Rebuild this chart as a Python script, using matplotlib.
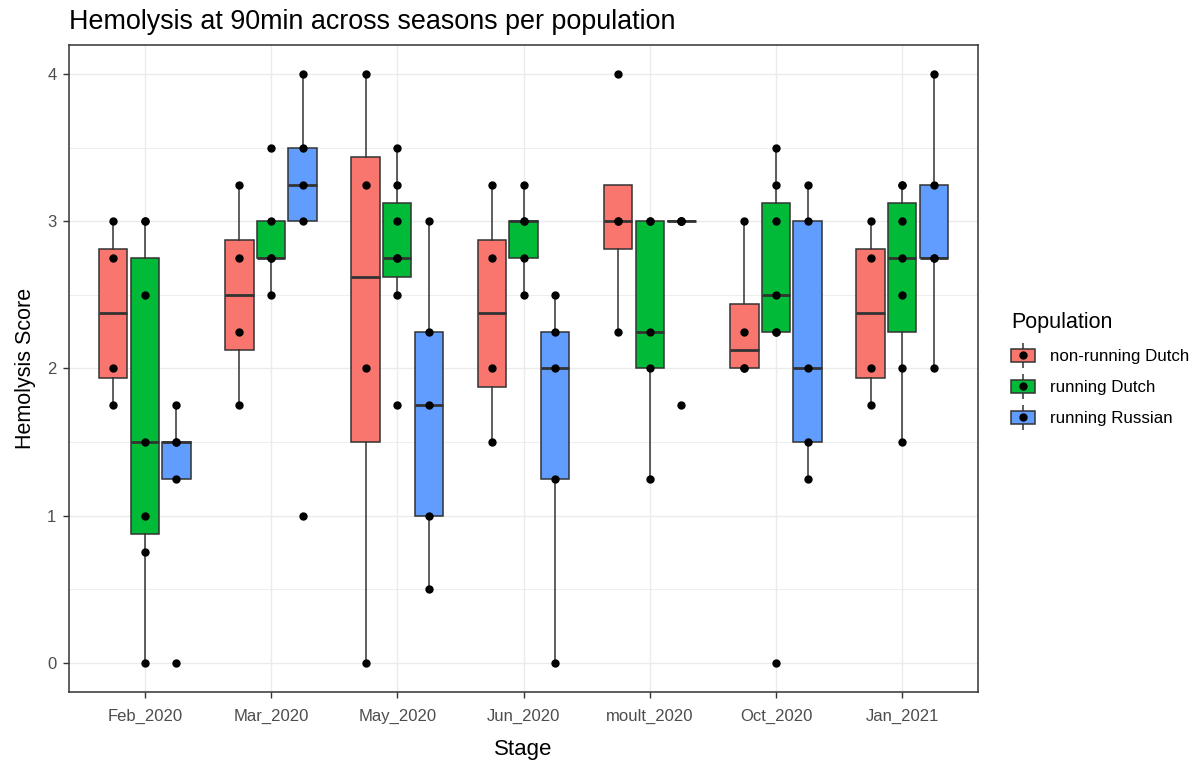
import numpy as np
import matplotlib
matplotlib.use("Agg")
import matplotlib.pyplot as plt
from matplotlib.patches import Patch
from matplotlib.lines import Line2D

plt.rcParams['font.family'] = ['Liberation Sans', 'DejaVu Sans']

# hemolysis scores per stage, one list per population
stages = ["Feb_2020", "Mar_2020", "May_2020", "Jun_2020", "moult_2020", "Oct_2020", "Jan_2021"]
populations = ["non-running Dutch", "running Dutch", "running Russian"]

nonrunning_dutch = [
    [1.75, 2, 2.75, 3],
    [1.75, 2.25, 2.75, 3.25],
    [0, 2, 3.25, 4],
    [1.5, 2, 2.75, 3.25],
    [2.25, 3, 3, 4],
    [2, 2, 2.25, 3],
    [1.75, 2, 2.75, 3],
]
running_dutch = [
    [0, 0.75, 1, 1.5, 2.5, 3, 3],
    [2.5, 2.75, 2.75, 3, 3.5],
    [1.75, 2.5, 2.75, 2.75, 3, 3.25, 3.5],
    [2.5, 2.75, 3, 3, 3.25],
    [1.25, 2, 2.25, 3, 3],
    [0, 2.25, 2.25, 2.5, 3, 3.25, 3.5],
    [1.5, 2, 2.5, 2.75, 3, 3.25, 3.25],
]
running_russian = [
    [0, 1.25, 1.5, 1.5, 1.75],
    [1, 3, 3.25, 3.5, 4],
    [0.5, 1, 1.75, 2.25, 3],
    [0, 1.25, 2, 2.25, 2.5],
    [1.75, 3, 3, 3, 3],
    [1.25, 1.5, 2, 3, 3.25],
    [2, 2.75, 2.75, 3.25, 4],
]

series = [nonrunning_dutch, running_dutch, running_russian]
colors = ["#F8766D", "#00BA38", "#619CFF"]
edge = "#333333"

fig = plt.figure(figsize=(11.99, 7.63), dpi=100)
ax = fig.add_axes([69 / 1199, 1 - 692 / 763, (978 - 69) / 1199, (692 - 45) / 763])

x = np.arange(1, len(stages) + 1)
offsets = [-0.25, 0, 0.25]

for data, col, off in zip(series, colors, offsets):
    ax.boxplot(data, positions=x + off, widths=0.225, whis=1.5, showfliers=False,
               patch_artist=True, manage_ticks=False, zorder=3,
               boxprops=dict(facecolor=col, edgecolor=edge, linewidth=1.1),
               medianprops=dict(color=edge, linewidth=2.0),
               whiskerprops=dict(color=edge, linewidth=1.1),
               capprops=dict(linewidth=0))
    for xi, vals in zip(x + off, data):
        ax.plot([xi] * len(vals), vals, 'o', color='black', markersize=5, zorder=4)

ax.set_xlim(0.4, 7.6)
ax.set_ylim(-0.2, 4.2)
ax.set_xticks(x)
ax.set_xticklabels(stages)
ax.set_yticks([0, 1, 2, 3, 4])
ax.set_yticks([0.5, 1.5, 2.5, 3.5], minor=True)
ax.tick_params(axis='both', which='major', length=4, width=1.0, color=edge,
               labelsize=12, labelcolor='#4D4D4D')
ax.tick_params(axis='x', pad=8)
ax.tick_params(axis='y', pad=5)
ax.tick_params(axis='y', which='minor', length=0)
ax.grid(True, which='major', color='#EBEBEB', linewidth=1.0, zorder=0)
ax.grid(True, which='minor', axis='y', color='#EBEBEB', linewidth=0.6, zorder=0)
ax.set_axisbelow(True)
for sp in ax.spines.values():
    sp.set_color(edge)
    sp.set_linewidth(1.1)

ax.set_xlabel("Stage", fontsize=16, labelpad=11)
ax.set_ylabel("Hemolysis Score", fontsize=15.5, labelpad=8)
fig.text(69 / 1199, 1 - 22 / 763, "Hemolysis at 90min across seasons per population",
         fontsize=19.4, ha='left', va='center')

# legend keys: filled box with a dot and whisker stubs
handles = []
for col in colors:
    handles.append((Line2D([], [], marker='|', color=edge, linestyle='None',
                           markersize=18, markeredgewidth=1.1),
                    Patch(facecolor=col, edgecolor=edge, linewidth=1.1),
                    Line2D([], [], marker='o', color='black', linestyle='None', markersize=5)))
leg = fig.legend(handles, populations, title="Population", loc='upper left',
                 bbox_to_anchor=(996 / 1199, 1 - 297 / 763), frameon=False,
                 fontsize=12.2, title_fontsize=15.5, handlelength=1.4, handleheight=0.88,
                 handletextpad=0.9, labelspacing=0.9)
leg._legend_box.align = "left"

fig.savefig("out.png", dpi=100)
